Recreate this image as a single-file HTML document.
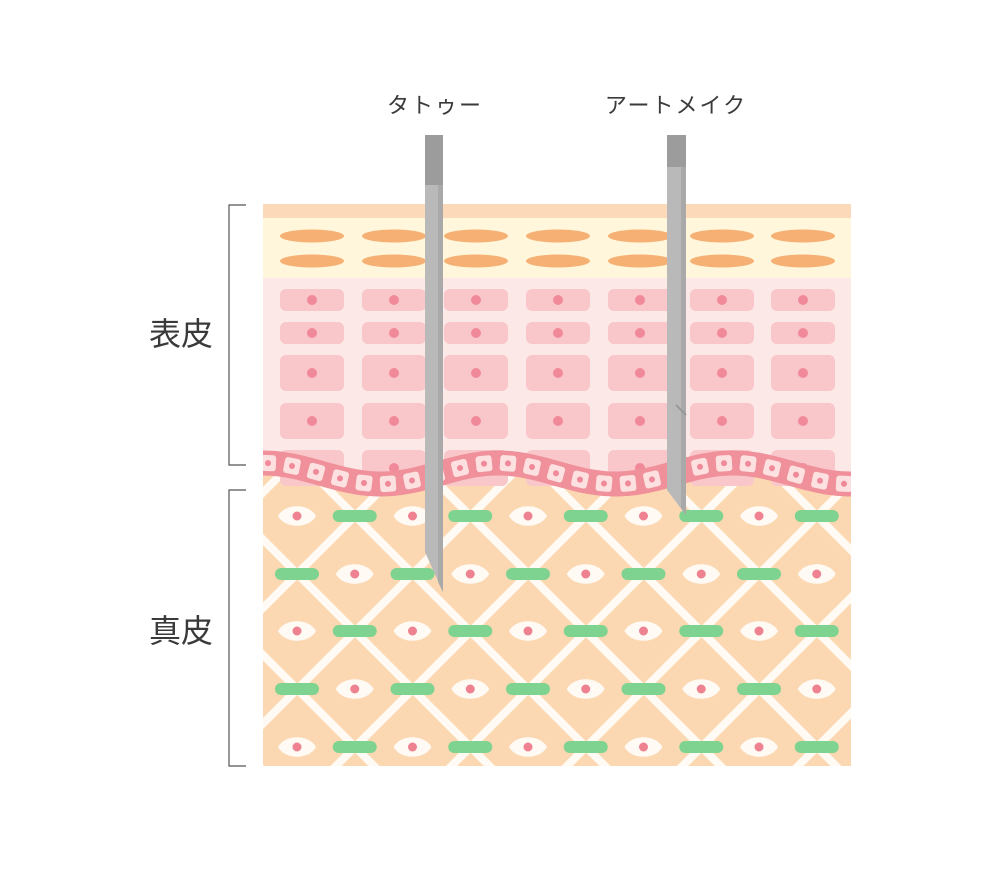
<!DOCTYPE html>
<html><head><meta charset="utf-8"><style>
html,body{margin:0;padding:0;background:#fff;overflow:hidden;width:1006px;height:876px;}
svg{display:block;}
text{font-family:"Liberation Sans","Noto Sans CJK JP",sans-serif;fill:#3a3a3a;}
</style></head><body>
<svg id="s" width="1006" height="876" viewBox="0 0 1006 876" xmlns="http://www.w3.org/2000/svg">
<defs><clipPath id="c"><rect x="263" y="204" width="588" height="562"/></clipPath></defs>
<rect width="1006" height="876" fill="#fff"/>
<g clip-path="url(#c)" id="skin">
<rect x="263" y="440" width="588" height="330" fill="#fcd8b2"/>
<g id="lat" stroke="#fffaf3" stroke-width="8"></g>
<g id="derm"></g>
<rect x="263" y="204" width="588" height="14" fill="#fcd9b8"/>
<rect x="263" y="218" width="588" height="60" fill="#fff6dc"/>
<path id="pinkfill" fill="#fde8e8"/>
<g id="epi"></g>
<path id="band" fill="none" stroke="#f0909a" stroke-width="25"/>
<g id="basal"></g>
</g>
<g>
<polygon points="425,135 443,135 443,592 425,552" fill="#b9b9b9"/>
<rect x="425" y="135" width="18" height="50" fill="#9c9c9c"/>
<polygon points="438,185 443,185 443,592 438,582" fill="#a9a9a9"/>
<polygon points="667,135 686,135 686,515 667,490" fill="#b9b9b9"/>
<rect x="667" y="135" width="19" height="32" fill="#9c9c9c"/>
<polygon points="681,167 686,167 686,515 681,508" fill="#a9a9a9"/>
<line x1="676" y1="405" x2="686" y2="415" stroke="#999" stroke-width="2"/>
</g>
<text x="435" y="113" font-size="22" text-anchor="middle" letter-spacing="2">タトゥー</text>
<text x="676" y="113" font-size="22" text-anchor="middle" letter-spacing="2">アートメイク</text>
<text x="181" y="345" font-size="32" text-anchor="middle">表皮</text>
<text x="181" y="642" font-size="32" text-anchor="middle">真皮</text>
<path d="M246,205 H229 V465 H246 M246,490 H229 V766 H246" fill="none" stroke="#555" stroke-width="1.2"/>
</svg>
<script>
var NS="http://www.w3.org/2000/svg";
function el(p,t,a){var e=document.createElementNS(NS,t);for(var k in a)e.setAttribute(k,a[k]);document.getElementById(p).appendChild(e);return e;}
for(var k=-10;k<12;k++){var c=-161+115.5*k;el('lat','line',{x1:200,y1:200-c,x2:900,y2:900-c});
var d=871+115.5*k-231*2;el('lat','line',{x1:200,y1:d-200,x2:900,y2:d-900});}
var rows=[516,574,631,689,747];
for(var r=0;r<5;r++){for(var i=-1;i<11;i++){var x=297+57.75*i;var y=rows[r];
var eye=((i+r)%2+2)%2==0;
if(eye){el('derm','path',{d:"M"+(x-19)+","+y+" C"+(x-12)+","+(y-13)+" "+(x+12)+","+(y-13)+" "+(x+19)+","+y+" C"+(x+12)+","+(y+13)+" "+(x-12)+","+(y+13)+" "+(x-19)+","+y+"Z",fill:'#fffaf4'});el('derm','circle',{cx:x,cy:y,r:4.5,fill:'#ee8290'});}
else el('derm','rect',{x:x-22,y:y-6,width:44,height:12,rx:6,fill:'#7fd390'});}}
function wy(x){return 473.5-10.5*Math.cos(2*Math.PI*(x-263)/235);}
var d="M255,"+wy(255);for(var x=255;x<=860;x+=3)d+=" L"+x+","+wy(x).toFixed(1);
document.getElementById('band').setAttribute('d',d);
document.getElementById('pinkfill').setAttribute('d',d+" L860,278 L255,278 Z");
var cx=[312,394,476,558,640,722,803];
cx.forEach(function(x){
el('epi','ellipse',{cx:x,cy:236,rx:32,ry:6.5,fill:'#f6b073'});
el('epi','ellipse',{cx:x,cy:261,rx:32,ry:6.5,fill:'#f6b073'});
[[289,22],[322,22],[355,36],[403,36],[450,36]].forEach(function(q){
el('epi','rect',{x:x-32,y:q[0],width:64,height:q[1],rx:6,fill:'#f9c7ca'});
el('epi','circle',{cx:x,cy:q[0]+q[1]/2,r:5,fill:'#f08a9a'});});});
for(var x=268;x<860;x+=24){var y=wy(x);var a=Math.atan2(wy(x+1)-wy(x-1),2)*180/Math.PI;
var g=el('basal','g',{transform:"translate("+x+","+y.toFixed(1)+") rotate("+a.toFixed(1)+")"});
var r1=document.createElementNS(NS,'rect');r1.setAttribute('x',-8);r1.setAttribute('y',-8);r1.setAttribute('width',16);r1.setAttribute('height',16);r1.setAttribute('rx',3);r1.setAttribute('fill','#fde0e0');g.appendChild(r1);
var c1=document.createElementNS(NS,'circle');c1.setAttribute('r',3);c1.setAttribute('fill','#f08a9a');g.appendChild(c1);}
</script>
</body></html>
